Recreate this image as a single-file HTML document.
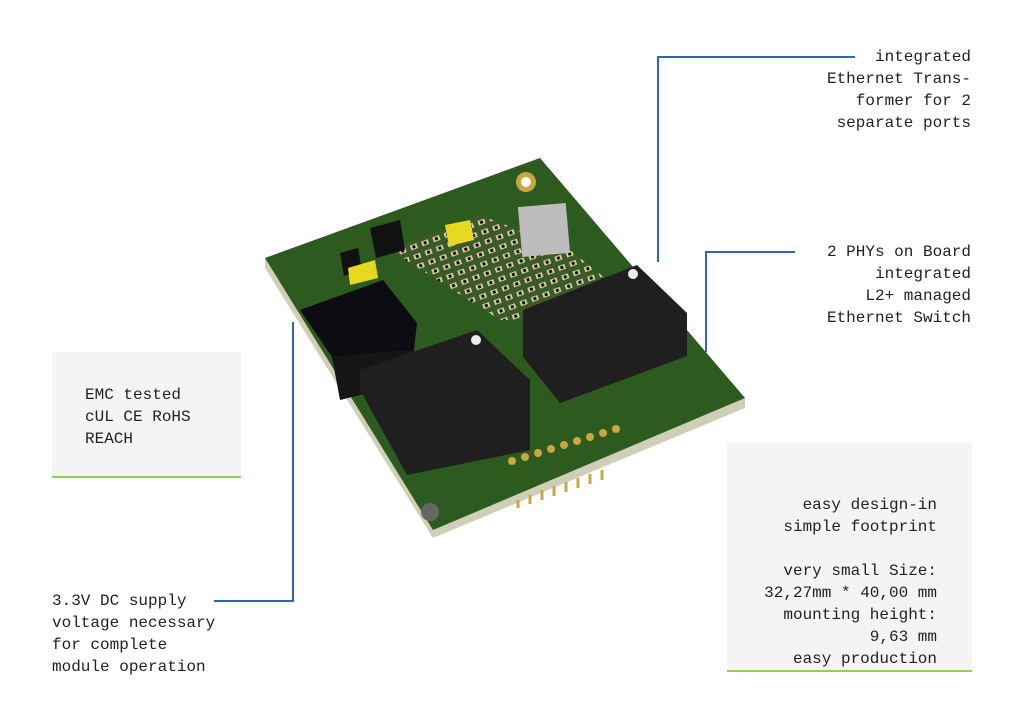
<!DOCTYPE html>
<html><head><meta charset="utf-8"><style>
body{margin:0;width:1024px;height:724px;background:#fff;position:relative;overflow:hidden;font-family:"Liberation Mono",monospace;font-size:16px;color:#222;}
.t{position:absolute;line-height:22px;white-space:pre;}
.box{position:absolute;background:#f4f4f4;border-bottom:2px solid #8fd14f;}
</style></head><body>
<div class="box" style="left:52px;top:352px;width:189px;height:124px"></div>
<div class="box" style="left:727px;top:443px;width:245px;height:227px"></div>
<svg width="1024" height="724" style="position:absolute;left:0;top:0">
<defs><pattern id="p" width="12" height="10" patternUnits="userSpaceOnUse" patternTransform="rotate(-20)">
<rect width="12" height="10" fill="#3a5a28"/><rect x="1" y="1" width="7" height="5" fill="#d8cca0"/><rect x="3" y="2" width="3" height="3" fill="#111"/></pattern></defs>
<g fill="none" stroke="#2f63c0" stroke-width="2">
<polyline points="658,262 658,57 855,57"/>
<polyline points="706,352 706,252 795,252"/>
<polyline points="293,322 293,601 214,601"/>
</g>
<polygon points="265,258 540,158 745,398 745,408 433,538 265,268" fill="#cfcfb8"/>
<polygon points="265,258 540,158 745,398 433,530" fill="#2d5a1f"/>
<polygon points="390,250 480,215 570,250 620,290 540,320 500,320" fill="url(#p)"/>
<circle cx="526" cy="182" r="10" fill="#c9a640"/><circle cx="526" cy="182" r="5" fill="#fff"/>
<rect x="520" y="205" width="48" height="50" fill="#bdbdbd" transform="rotate(-5 544 230)"/>
<polygon points="340,253 358,248 362,270 344,276" fill="#111"/>
<polygon points="348,268 375,260 378,278 350,285" fill="#e8d820"/>
<polygon points="445,225 470,220 474,240 449,246" fill="#e8d820"/>
<polygon points="370,228 400,220 405,250 376,258" fill="#111"/>
<polygon points="300,310 383,280 417,323 414,350 332,357" fill="#0c0c12"/>
<polygon points="332,357 414,350 420,380 340,400" fill="#151515"/>
<polygon points="360,370 477,330 530,380 530,450 407,475 360,390" fill="#1f1f1f"/>
<polygon points="523,310 637,265 687,313 687,356 560,403 523,357" fill="#1f1f1f"/>
<circle cx="476" cy="340" r="5" fill="#eee"/><circle cx="633" cy="274" r="5" fill="#eee"/>
<circle cx="430" cy="512" r="9" fill="#666"/>
<g fill="#c9a640"><circle cx="512" cy="461" r="4"/><circle cx="525" cy="457" r="4"/><circle cx="538" cy="453" r="4"/><circle cx="551" cy="449" r="4"/><circle cx="564" cy="445" r="4"/><circle cx="577" cy="441" r="4"/><circle cx="590" cy="437" r="4"/><circle cx="603" cy="433" r="4"/><circle cx="616" cy="429" r="4"/></g>
<g stroke="#c9a640" stroke-width="3"><line x1="518" y1="500" x2="518" y2="508"/><line x1="530" y1="495" x2="530" y2="504"/><line x1="542" y1="490" x2="542" y2="500"/><line x1="554" y1="486" x2="554" y2="496"/><line x1="566" y1="482" x2="566" y2="492"/><line x1="578" y1="478" x2="578" y2="488"/><line x1="590" y1="474" x2="590" y2="484"/><line x1="602" y1="470" x2="602" y2="480"/></g>
</svg>
<div class="t" style="right:53px;top:46px;text-align:right">integrated
Ethernet Trans-
former for 2
separate ports</div>
<div class="t" style="right:53px;top:241px;text-align:right">2 PHYs on Board
integrated
L2+ managed
Ethernet Switch</div>
<div class="t" style="left:85px;top:384px">EMC tested
cUL CE RoHS
REACH</div>
<div class="t" style="right:87px;top:494px;text-align:right">easy design-in
simple footprint

very small Size:
32,27mm * 40,00 mm
mounting height:
9,63 mm
easy production</div>
<div class="t" style="left:52px;top:590px">3.3V DC supply
voltage necessary
for complete
module operation</div>
</body></html>
